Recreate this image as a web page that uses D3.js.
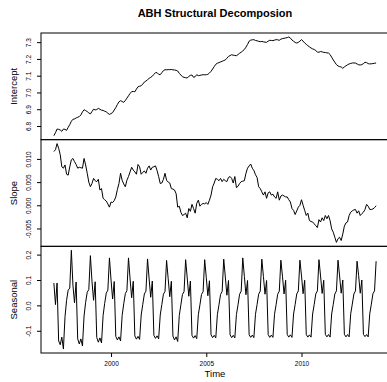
<!DOCTYPE html>
<html>
<head>
<meta charset="utf-8">
<script src="https://cdn.jsdelivr.net/npm/d3@7"></script>
<style>
  html, body { margin: 0; padding: 0; background: #fff; }
  svg { display: block; font-family: "Liberation Sans", Arial, Helvetica, sans-serif; }
</style>
</head>
<body>
<svg id="chart" width="387" height="382"></svg>
<script>
// Monthly series, January 1997 to December 2013
const startYear = 1997;
const frequency = 12;

const intercept = [
  6.742, 6.760, 6.782, 6.780, 6.776, 6.768, 6.782, 6.780, 6.774, 6.792, 6.808, 6.828,
  6.840, 6.842, 6.848, 6.852, 6.856, 6.866, 6.884, 6.897, 6.892, 6.886, 6.878, 6.872,
  6.886, 6.900, 6.896, 6.898, 6.905, 6.900, 6.894, 6.893, 6.888, 6.884, 6.876, 6.869,
  6.874, 6.880, 6.895, 6.910, 6.928, 6.944, 6.951, 6.946, 6.941, 6.952, 6.966, 6.980,
  6.994, 7.005, 7.006, 7.004, 7.020, 7.034, 7.037, 7.040, 7.050, 7.062, 7.068, 7.076,
  7.084, 7.090, 7.097, 7.108, 7.118, 7.118, 7.108, 7.106, 7.118, 7.130, 7.136, 7.135,
  7.136, 7.136, 7.137, 7.135, 7.134, 7.132, 7.128, 7.114, 7.104, 7.094, 7.090, 7.088,
  7.086, 7.096, 7.102, 7.104, 7.090, 7.094, 7.106, 7.100, 7.102, 7.104, 7.106, 7.105,
  7.106, 7.108, 7.116, 7.126, 7.140, 7.154, 7.168, 7.174, 7.178, 7.182, 7.186, 7.190,
  7.194, 7.204, 7.215, 7.220, 7.225, 7.222, 7.221, 7.219, 7.226, 7.234, 7.240, 7.248,
  7.256, 7.270, 7.286, 7.306, 7.312, 7.314, 7.315, 7.310, 7.308, 7.305, 7.303, 7.304,
  7.302, 7.300, 7.299, 7.306, 7.311, 7.310, 7.309, 7.312, 7.315, 7.314, 7.311, 7.318,
  7.321, 7.323, 7.325, 7.327, 7.331, 7.324, 7.313, 7.305, 7.298, 7.295, 7.299, 7.306,
  7.315, 7.306, 7.295, 7.287, 7.279, 7.272, 7.265, 7.260, 7.256, 7.250, 7.241, 7.240,
  7.244, 7.242, 7.239, 7.238, 7.236, 7.235, 7.226, 7.210, 7.194, 7.180, 7.166, 7.158,
  7.154, 7.152, 7.144, 7.152, 7.159, 7.165, 7.170, 7.173, 7.176, 7.176, 7.175, 7.170,
  7.165, 7.164, 7.166, 7.172, 7.180, 7.178, 7.172, 7.170, 7.171, 7.172, 7.174, 7.176
];

const slope = [
  0.0116, 0.0120, 0.0133, 0.0123, 0.0109, 0.0083, 0.0080, 0.0087, 0.0067, 0.0065, 0.0083, 0.0098,
  0.0101, 0.0094, 0.0088, 0.0080, 0.0082, 0.0081, 0.0080, 0.0101, 0.0087, 0.0069, 0.0050, 0.0040,
  0.0047, 0.0058, 0.0053, 0.0051, 0.0056, 0.0033, 0.0036, 0.0015, 0.0012, 0.0009, 0.0003, -0.0004,
  0.0007, 0.0006, 0.0010, 0.0018, 0.0034, 0.0047, 0.0069, 0.0054, 0.0046, 0.0040, 0.0054, 0.0062,
  0.0072, 0.0082, 0.0076, 0.0072, 0.0067, 0.0088, 0.0083, 0.0067, 0.0071, 0.0074, 0.0069, 0.0080,
  0.0085, 0.0076, 0.0082, 0.0083, 0.0085, 0.0075, 0.0062, 0.0047, 0.0048, 0.0056, 0.0069, 0.0054,
  0.0050, 0.0048, 0.0036, 0.0035, 0.0033, 0.0025, -0.0004, -0.0002, -0.0015, -0.0022, -0.0020, -0.0017,
  -0.0027, -0.0007, -0.0013, 0.0002, -0.0007, -0.0017, 0.0004, 0.0011, -0.0002, 0.0002, 0.0004, 0.0003,
  0.0006, 0.0002, 0.0011, 0.0022, 0.0040, 0.0048, 0.0058, 0.0056, 0.0053, 0.0058, 0.0051, 0.0056,
  0.0053, 0.0051, 0.0060, 0.0062, 0.0058, 0.0048, 0.0062, 0.0038, 0.0041, 0.0047, 0.0051, 0.0052,
  0.0053, 0.0069, 0.0080, 0.0085, 0.0089, 0.0080, 0.0075, 0.0066, 0.0060, 0.0040, 0.0036, 0.0029,
  0.0022, 0.0029, 0.0015, 0.0027, 0.0029, 0.0022, 0.0024, 0.0018, 0.0015, 0.0029, 0.0011, 0.0020,
  0.0022, 0.0020, 0.0018, 0.0018, 0.0012, 0.0007, -0.0007, -0.0011, -0.0020, -0.0012, -0.0004, 0.0000,
  0.0012, 0.0000, -0.0011, -0.0022, -0.0017, -0.0033, -0.0035, -0.0036, -0.0040, -0.0044, -0.0048, -0.0031,
  -0.0036, -0.0027, -0.0033, -0.0022, -0.0029, -0.0022, -0.0033, -0.0051, -0.0058, -0.0069, -0.0080, -0.0072,
  -0.0069, -0.0076, -0.0062, -0.0045, -0.0038, -0.0036, -0.0022, -0.0015, -0.0012, -0.0010, -0.0009, -0.0017,
  -0.0012, -0.0022, -0.0018, -0.0015, -0.0009, 0.0002, -0.0002, -0.0009, -0.0009, -0.0008, -0.0005, -0.0001
];

const seasonal = [
  0.088, 0.003, 0.088, -0.140, -0.155, -0.125, -0.172, -0.045, 0.020, 0.060, 0.068, 0.217,
  0.080, 0.010, 0.092, -0.132, -0.152, -0.132, -0.160, -0.042, 0.012, 0.052, 0.062, 0.196,
  0.095, 0.020, 0.093, -0.126, -0.145, -0.128, -0.148, -0.040, 0.008, 0.048, 0.060, 0.187,
  0.100, 0.025, 0.094, -0.122, -0.136, -0.124, -0.140, -0.040, 0.006, 0.046, 0.058, 0.187,
  0.104, 0.030, 0.095, -0.120, -0.133, -0.122, -0.134, -0.038, 0.004, 0.045, 0.056, 0.183,
  0.104, 0.032, 0.096, -0.118, -0.130, -0.120, -0.132, -0.038, 0.003, 0.044, 0.055, 0.177,
  0.105, 0.034, 0.095, -0.121, -0.136, -0.124, -0.142, -0.040, 0.002, 0.043, 0.054, 0.180,
  0.108, 0.036, 0.096, -0.118, -0.129, -0.119, -0.131, -0.037, 0.002, 0.043, 0.054, 0.180,
  0.110, 0.038, 0.097, -0.116, -0.127, -0.118, -0.128, -0.036, 0.002, 0.043, 0.055, 0.182,
  0.112, 0.040, 0.098, -0.116, -0.127, -0.118, -0.128, -0.036, 0.002, 0.044, 0.056, 0.187,
  0.114, 0.042, 0.098, -0.116, -0.126, -0.117, -0.127, -0.035, 0.003, 0.044, 0.056, 0.182,
  0.114, 0.044, 0.098, -0.115, -0.126, -0.117, -0.126, -0.035, 0.003, 0.044, 0.056, 0.178,
  0.115, 0.045, 0.099, -0.115, -0.125, -0.116, -0.126, -0.034, 0.004, 0.045, 0.057, 0.178,
  0.116, 0.046, 0.099, -0.115, -0.125, -0.116, -0.125, -0.034, 0.004, 0.045, 0.057, 0.180,
  0.116, 0.047, 0.099, -0.114, -0.124, -0.115, -0.125, -0.034, 0.004, 0.045, 0.057, 0.178,
  0.116, 0.048, 0.100, -0.114, -0.124, -0.115, -0.124, -0.033, 0.005, 0.045, 0.057, 0.174,
  0.117, 0.048, 0.100, -0.114, -0.123, -0.115, -0.124, -0.033, 0.005, 0.046, 0.057, 0.174
];

const panelNames = ["Intercept", "Slope", "Seasonal"];
const interceptTicks = [6.8, 6.9, 7.0, 7.1, 7.2, 7.3];
const slopeTicks = [-0.005, 0.000, 0.005, 0.010];
const seasonalTicks = [-0.1, 0.0, 0.1, 0.2];
const timeTicks = [2000, 2005, 2010];
const chartTitle = "ABH Structural Decomposion";

// ---- layout ----
const svg = d3.select("#chart");
const plotLeft = 41, plotRight = 389;
const plotTop = 33, plotBottom = 353;
const panelH = (plotBottom - plotTop) / 3;

const times = intercept.map((_, i) => startYear + i / frequency);

// R-style 4% padding around the data range
function padded(ext) {
  const d = (ext[1] - ext[0]) * 0.04;
  return [ext[0] - d, ext[1] + d];
}

const x = d3.scaleLinear().domain(padded(d3.extent(times))).range([plotLeft, plotRight]);

const panels = [
  { name: panelNames[0], values: intercept, ticks: interceptTicks, fmt: d3.format(".1f") },
  { name: panelNames[1], values: slope, ticks: slopeTicks, fmt: d3.format(".3f") },
  { name: panelNames[2], values: seasonal, ticks: seasonalTicks, fmt: d3.format(".1f") }
];

const hyphen = s => s.replace("\u2212", "-");

panels.forEach((p, k) => {
  const y0 = plotTop + k * panelH;
  const y1 = y0 + panelH;
  const y = d3.scaleLinear().domain(padded(d3.extent(p.values))).range([y1, y0]);
  const g = svg.append("g");

  // series line
  const line = d3.line().x((d, i) => x(times[i])).y(d => y(d));
  g.append("path")
    .datum(p.values)
    .attr("fill", "none")
    .attr("stroke", "#000")
    .attr("stroke-width", 1)
    .attr("stroke-linejoin", "round")
    .attr("d", line);

  // left axis: ticks with labels parallel to the axis
  const ax = g.append("g").attr("transform", `translate(${plotLeft},0)`)
    .call(d3.axisLeft(y).tickValues(p.ticks).tickSize(4).tickFormat(d => hyphen(p.fmt(d))));
  ax.select(".domain").remove();
  ax.selectAll(".tick line").attr("stroke", "#000");
  ax.selectAll(".tick text")
    .attr("x", null).attr("dy", null)
    .attr("transform", "translate(-10.5,0) rotate(-90)")
    .attr("text-anchor", "middle")
    .attr("font-size", "6.5px")
    .attr("font-family", "Liberation Sans, Arial, sans-serif")
    .attr("fill", "#000");

  // panel label
  g.append("text")
    .attr("transform", `translate(16.5,${(y0 + y1) / 2}) rotate(-90)`)
    .attr("text-anchor", "middle")
    .attr("font-size", "9.5px")
    .attr("fill", "#000")
    .text(p.name);

  // panel box
  g.append("rect")
    .attr("x", plotLeft).attr("y", y0)
    .attr("width", plotRight - plotLeft).attr("height", panelH)
    .attr("fill", "none")
    .attr("stroke", "#000")
    .attr("stroke-width", 1);
});

// bottom time axis
const xa = svg.append("g").attr("transform", `translate(0,${plotBottom})`)
  .call(d3.axisBottom(x).tickValues(timeTicks).tickSize(4).tickFormat(d3.format("d")));
xa.select(".domain").remove();
xa.selectAll(".tick line").attr("stroke", "#000");
xa.selectAll(".tick text")
  .attr("y", 13).attr("dy", null)
  .attr("font-size", "6.5px")
  .attr("font-family", "Liberation Sans, Arial, sans-serif")
  .attr("fill", "#000");

svg.append("text")
  .attr("x", (plotLeft + plotRight) / 2).attr("y", 377)
  .attr("text-anchor", "middle")
  .attr("font-size", "9.5px")
  .text("Time");

// title
svg.append("text")
  .attr("x", (plotLeft + plotRight) / 2).attr("y", 17)
  .attr("text-anchor", "middle")
  .attr("font-size", "11px")
  .attr("font-weight", "bold")
  .text(chartTitle);
</script>
</body>
</html>
